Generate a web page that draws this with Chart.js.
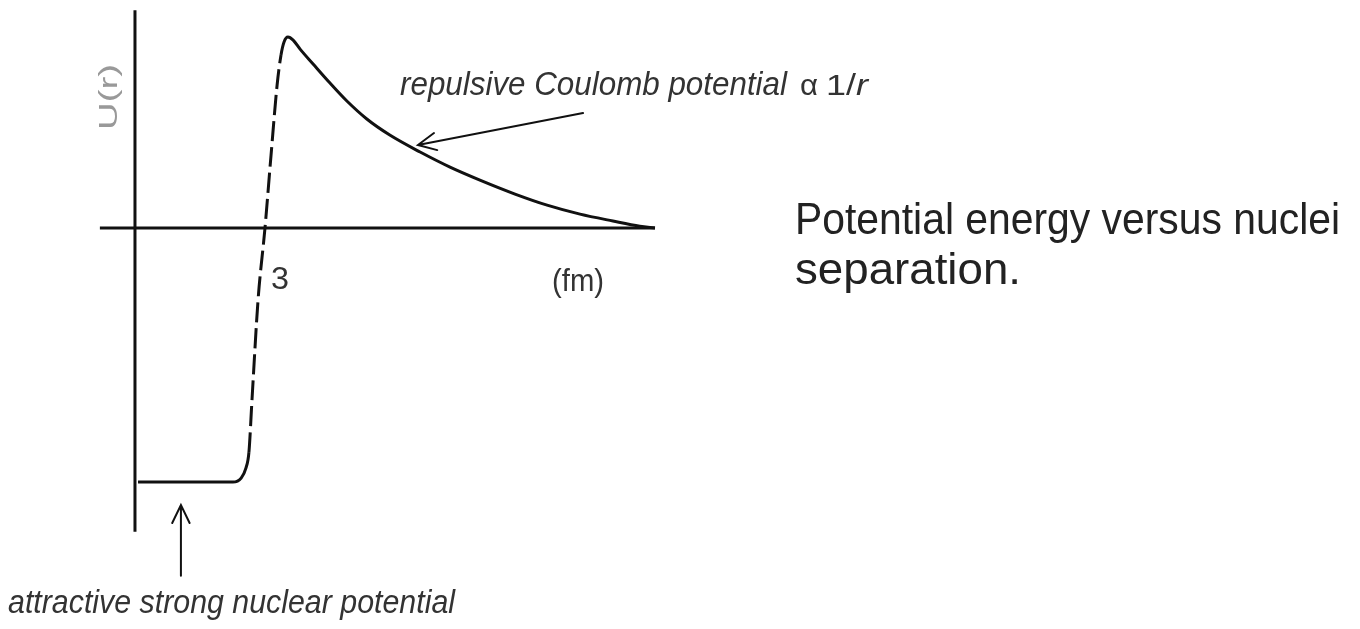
<!DOCTYPE html>
<html>
<head>
<meta charset="utf-8">
<script src="https://cdn.jsdelivr.net/npm/chart.js@4"></script>
<style>
  html, body { margin: 0; padding: 0; background: #fff; }
  canvas { display: block; }
</style>
</head>
<body>
<canvas id="chart" width="1360" height="629"></canvas>
<script>
// separation r (fm) and potential U(r)
const rValues = [0.07, 2.26, 2.45, 2.56, 2.63, 2.70, 2.84, 3.00, 3.14, 3.28, 3.37, 3.44, 3.53, 3.65, 3.81,
                 4.11, 4.50, 4.89, 5.35, 5.88, 6.58, 7.27, 7.96, 8.77, 9.51, 10.27, 11.03, 11.65, 12.0];
const uValues = [-13.3, -13.3, -13.09, -12.57, -11.73, -9.0, -3.77, 0, 3.82, 7.49, 9.06, 9.74, 10.0, 9.84, 9.37,
                 8.59, 7.59, 6.65, 5.71, 4.87, 3.98, 3.19, 2.51, 1.78, 1.20, 0.73, 0.37, 0.10, 0];
// the steep rise is drawn dashed between these point indices
const dashedFrom = 4;
const dashedTo = 10;

// axis extents (data units)
const xAxisRange = [-0.81, 12.0];
const yAxisRange = [-15.9, 11.4];
const xTickValues = [3];
const xTickLabels = ["3"];

// annotation arrows: [tailR, tailU, tipR, tipU]
const coulombArrow = [10.34, 6.02, 6.53, 4.35];
const strongArrow = [1.06, -18.2, 1.06, -14.5];

const yTitle = "U(r)";
const xUnit = "(fm)";
const coulombLabel = "repulsive Coulomb potential";
const strongLabel = "attractive strong nuclear potential";
const captionLines = ["Potential energy versus nuclei", "separation."];

const curve = rValues.map((r, i) => ({ x: r, y: uValues[i] }));

// draws text squeezed/stretched to a given width, returns drawn width
function fitText(ctx, text, x, y, width) {
    const w = ctx.measureText(text).width;
    const sx = width ? width / w : 1;
    ctx.save();
    ctx.translate(x, y);
    ctx.scale(sx, 1);
    ctx.fillText(text, 0, 0);
    ctx.restore();
    return w * sx;
}

function drawArrow(ctx, xs, ys, a) {
    const x0 = xs.getPixelForValue(a[0]), y0 = ys.getPixelForValue(a[1]);
    const x1 = xs.getPixelForValue(a[2]), y1 = ys.getPixelForValue(a[3]);
    const ang = Math.atan2(y1 - y0, x1 - x0);
    const head = 20, spread = 0.45;
    ctx.beginPath();
    ctx.moveTo(x0, y0);
    ctx.lineTo(x1, y1);
    ctx.moveTo(x1 - head * Math.cos(ang - spread), y1 - head * Math.sin(ang - spread));
    ctx.lineTo(x1, y1);
    ctx.lineTo(x1 - head * Math.cos(ang + spread), y1 - head * Math.sin(ang + spread));
    ctx.stroke();
}

const notes = {
    id: "notes",
    afterDatasetsDraw(chart) {
        const ctx = chart.ctx;
        const xs = chart.scales.x, ys = chart.scales.y;

        // arrows
        ctx.save();
        ctx.strokeStyle = "#111";
        ctx.lineWidth = 2;
        ctx.lineCap = "round";
        drawArrow(ctx, xs, ys, coulombArrow);
        drawArrow(ctx, xs, ys, strongArrow);
        ctx.restore();

        ctx.save();
        ctx.textBaseline = "alphabetic";

        // y title, rotated
        ctx.fillStyle = "#999";
        ctx.font = "26px 'Liberation Sans', Arial, sans-serif";
        ctx.save();
        ctx.translate(xs.getPixelForValue(0) - 18, 130);
        ctx.rotate(-Math.PI / 2);
        fitText(ctx, yTitle, 0, 0, 66);
        ctx.restore();

        // tick label and unit
        ctx.fillStyle = "#333";
        ctx.font = "31px 'Liberation Sans', Arial, sans-serif";
        xTickValues.forEach((v, i) => {
            fitText(ctx, xTickLabels[i], xs.getPixelForValue(v) + 6, 289, 18);
        });
        fitText(ctx, xUnit, 552, 291, 52);

        // italic labels
        ctx.font = "italic 34px 'Liberation Sans', Arial, sans-serif";
        fitText(ctx, coulombLabel, 400, 95, 387);
        fitText(ctx, strongLabel, 8, 613, 447);

        // alpha 1/r
        ctx.font = "30px 'Liberation Sans', Arial, sans-serif";
        fitText(ctx, "\u03b1", 800, 95, 18);
        const w1 = fitText(ctx, "1/", 826, 95, 30);
        ctx.font = "italic 30px 'Liberation Sans', Arial, sans-serif";
        fitText(ctx, "r", 826 + w1, 95, 12);

        // caption
        ctx.fillStyle = "#222";
        ctx.font = "44px 'Liberation Sans', Arial, sans-serif";
        fitText(ctx, captionLines[0], 795, 234, 545);
        fitText(ctx, captionLines[1], 795, 284, 226);
        ctx.restore();
    }
};

new Chart(document.getElementById("chart"), {
    type: "scatter",
    data: {
        datasets: [
            {
                // horizontal axis
                data: [{ x: xAxisRange[0], y: 0 }, { x: xAxisRange[1], y: 0 }],
                showLine: true,
                borderColor: "#111",
                borderWidth: 3,
                pointRadius: 0,
            },
            {
                // vertical axis
                data: [{ x: 0, y: yAxisRange[1] }, { x: 0, y: yAxisRange[0] }],
                showLine: true,
                borderColor: "#111",
                borderWidth: 3,
                pointRadius: 0,
            },
            {
                label: "U(r)",
                data: curve,
                showLine: true,
                borderColor: "#111",
                borderWidth: 3,
                pointRadius: 0,
                cubicInterpolationMode: "monotone",
                segment: {
                    borderDash: (c) =>
                        c.p0DataIndex >= dashedFrom && c.p1DataIndex <= dashedTo ? [20, 6] : undefined,
                },
            },
        ],
    },
    options: {
        responsive: false,
        animation: false,
        devicePixelRatio: 1,
        layout: { padding: 0 },
        plugins: { legend: { display: false }, tooltip: { enabled: false } },
        scales: {
            x: { type: "linear", min: -3.115, max: 28.27, display: false },
            y: { type: "linear", min: -20.99, max: 11.94, display: false },
        },
    },
    plugins: [notes],
});
</script>
</body>
</html>
